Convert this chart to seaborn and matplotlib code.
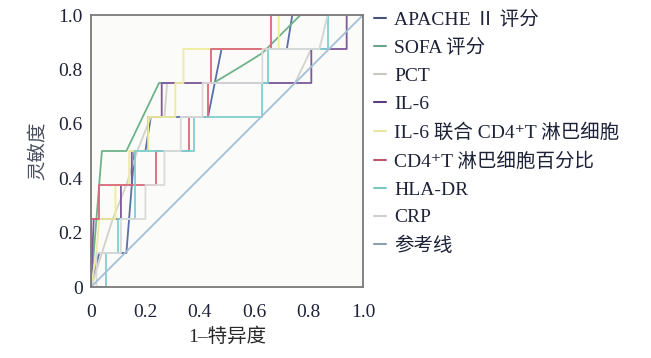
import matplotlib
matplotlib.use("Agg")
import matplotlib.pyplot as plt
import seaborn as sns
import pandas as pd
from matplotlib.lines import Line2D

sns.set_style("white")
plt.rcParams['font.family'] = ['Liberation Serif', 'Noto Sans CJK SC', 'DejaVu Sans']

# ---- data ----
apache_x = [0, 0.03, 0.13, 0.16, 0.20, 0.22, 0.43, 0.48, 0.72, 0.74, 1.0]
apache_y = [0, 0.125, 0.125, 0.5, 0.5, 0.625, 0.625, 0.875, 0.875, 1.0, 1.0]

sofa_x = [0, 0.04, 0.13, 0.25, 0.45, 0.55, 0.63, 0.70, 0.77, 1.0]
sofa_y = [0, 0.5, 0.5, 0.75, 0.75, 0.81, 0.86, 0.93, 1.0, 1.0]

pct_x = [0, 0.04, 0.08, 0.13, 0.17, 0.22, 0.27, 0.28, 0.75, 0.81, 0.84, 0.87, 1.0]
pct_y = [0, 0.125, 0.25, 0.375, 0.5, 0.625, 0.625, 0.75, 0.75, 0.875, 0.875, 1.0, 1.0]

il6_x = [0, 0.01, 0.11, 0.11, 0.15, 0.15, 0.21, 0.21, 0.26, 0.26, 0.81, 0.81, 0.94, 0.94, 1.0]
il6_y = [0, 0.25, 0.25, 0.375, 0.375, 0.5, 0.5, 0.625, 0.625, 0.75, 0.75, 0.875, 0.875, 1.0, 1.0]

combo_x = [0, 0.02, 0.03, 0.09, 0.09, 0.14, 0.14, 0.21, 0.21, 0.31, 0.31, 0.34, 0.34, 0.69, 0.69, 1.0]
combo_y = [0, 0.125, 0.25, 0.25, 0.375, 0.375, 0.5, 0.5, 0.625, 0.625, 0.75, 0.75, 0.875, 0.875, 1.0, 1.0]

cd4_x = [0, 0, 0.03, 0.03, 0.24, 0.24, 0.36, 0.36, 0.43, 0.43, 0.44, 0.44, 0.66, 0.66, 1.0]
cd4_y = [0, 0.25, 0.25, 0.375, 0.375, 0.5, 0.5, 0.625, 0.625, 0.75, 0.75, 0.875, 0.875, 1.0, 1.0]

hla_x = [0, 0.055, 0.055, 0.10, 0.10, 0.16, 0.16, 0.38, 0.38, 0.63, 0.63, 0.65, 0.65, 0.87, 0.87, 1.0]
hla_y = [0, 0, 0.125, 0.125, 0.25, 0.25, 0.5, 0.5, 0.625, 0.625, 0.75, 0.75, 0.875, 0.875, 1.0, 1.0]

crp_x = [0, 0.02, 0.02, 0.11, 0.11, 0.20, 0.20, 0.27, 0.27, 0.33, 0.33, 0.41, 0.41, 0.63, 0.63, 0.84, 0.87, 1.0]
crp_y = [0, 0, 0.125, 0.125, 0.25, 0.25, 0.375, 0.375, 0.5, 0.5, 0.625, 0.625, 0.75, 0.75, 0.875, 0.875, 1.0, 1.0]

ref_x = [0, 1.0]
ref_y = [0, 1.0]

labels = ["APACHE Ⅱ 评分", "SOFA 评分", "PCT", "IL-6", "IL-6 联合 CD4⁺T 淋巴细胞",
          "CD4⁺T 淋巴细胞百分比", "HLA-DR", "CRP", "参考线"]
tick_vals = [0, 0.2, 0.4, 0.6, 0.8, 1.0]
tick_labels = ["0", "0.2", "0.4", "0.6", "0.8", "1.0"]

series = [
    (apache_x, apache_y, '#5a6fa8', '#4a5478'),
    (sofa_x, sofa_y, '#6db38a', '#6aa588'),
    (pct_x, pct_y, '#d2d2ca', '#c8c8c0'),
    (il6_x, il6_y, '#7d5a9a', '#5a3f7c'),
    (combo_x, combo_y, '#eded9c', '#e6e6a0'),
    (cd4_x, cd4_y, '#d9687a', '#c05a72'),
    (hla_x, hla_y, '#7dcfcf', '#7cc6bd'),
    (crp_x, crp_y, '#dadada', '#d0d0d0'),
    (ref_x, ref_y, '#a3c0d8', '#8aa0b0'),
]

fig = plt.figure(figsize=(6.51, 3.58), dpi=100)
ax = fig.add_axes([91/651, 1-287/358, 272/651, 272/358])
ax.set_facecolor('#fbfbf9')

for (xs, ys, col, _), lab in zip(series, labels):
    df = pd.DataFrame({'x': xs, 'y': ys})
    sns.lineplot(data=df, x='x', y='y', sort=False, estimator=None, ax=ax,
                 color=col, lw=1.3, legend=False)

ax.set_xlim(0, 1)
ax.set_ylim(0, 1)
ax.set_xticks(tick_vals)
ax.set_xticklabels(tick_labels)
ax.set_yticks(tick_vals)
ax.set_yticklabels(tick_labels)
ax.tick_params(direction='in', length=7, width=1.5, color='#111111',
               labelsize=14, labelcolor='#1e2238', pad=6)
ax.tick_params(axis='x', pad=12)
for s in ax.spines.values():
    s.set_color('#7a7a7a')
    s.set_linewidth(1.3)

ax.set_xlabel("1–特异度", fontsize=14, color='#2a2a2a', labelpad=5)
ax.set_ylabel("灵敏度", fontsize=14, color='#4a5060', labelpad=8)

handles = [Line2D([0], [0], color=h, lw=1.5) for (_, _, _, h) in series]
leg = fig.legend(handles, labels, loc='upper left', bbox_to_anchor=(370/651, 1 - 7/358),
                 frameon=False, fontsize=14, handlelength=0.6, handletextpad=0.45,
                 labelspacing=0.53, borderaxespad=0, borderpad=0.2)
for t in leg.get_texts():
    t.set_color('#1e2238')

fig.savefig("out.png", dpi=100)
